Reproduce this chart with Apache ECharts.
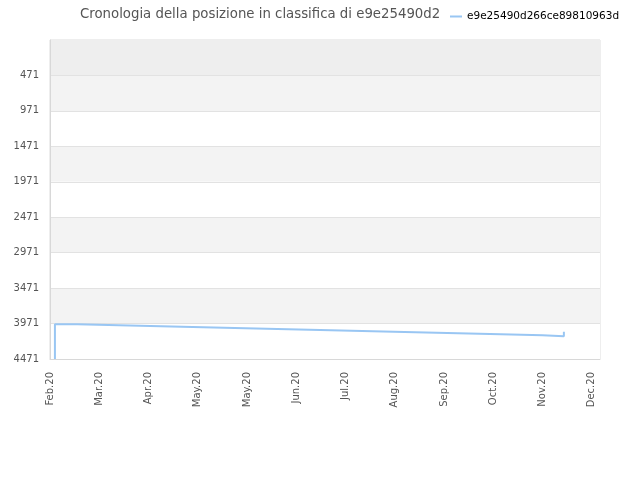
<!DOCTYPE html>
<html>
<head>
<meta charset="utf-8">
<script src="https://cdn.jsdelivr.net/npm/echarts@6/dist/echarts.min.js"></script>
<style>html,body{margin:0;padding:0;background:#fff}#c{width:640px;height:480px}</style>
</head>
<body>
<div id="c"></div>
<script>
// Days since 1 Feb 2020 at which the rank changes
var days = [3, 3, 16.5, 42, 67.5, 93.3, 119, 145, 171, 196.5, 222.4, 248.5, 274.5, 300, 313];
// Rank values
var ranks = [4471, 3981, 3995, 4009, 4023, 4037, 4051, 4065, 4079, 4093, 4107, 4121, 4135, 4149, 4086];
// Tick labels
var monthLabels = ['Feb.20','Mar.20','Apr.20','May.20','May.20','Jun.20','Jul.20','Aug.20','Sep.20','Oct.20','Nov.20','Dec.20'];
var seriesName = 'e9e25490d266ce89810963d';
var titleText = 'Cronologia della posizione in classifica di e9e25490d2';

var data = days.map(function (d, i) { return [d, ranks[i]]; });
var chart = echarts.init(document.getElementById('c'));
chart.setOption({
  animation: false,
  textStyle: { fontFamily: 'DejaVu Sans' },
  title: {
    text: titleText, left: 75, top: 3,
    textStyle: { fontSize: 13.3, fontWeight: 'normal', color: '#555', fontFamily: 'DejaVu Sans' }
  },
  legend: {
    data: [seriesName], left: 445, top: 6, itemWidth: 12, itemHeight: 2, itemGap: 8,
    icon: 'rect',
    textStyle: { fontSize: 10.5, color: '#000', fontFamily: 'DejaVu Sans' }
  },
  grid: { left: 50, right: 40, top: 40, bottom: 121, show: true, borderColor: '#ddd', borderWidth: 1, containLabel: false },
  xAxis: {
    type: 'value', min: 0, max: 335, interval: 30,
    axisLine: { show: true, onZero: false, lineStyle: { color: '#d8d8d8' } },
    axisTick: { show: false },
    splitLine: { show: false },
    axisLabel: {
      rotate: 90, fontSize: 10, color: '#555', margin: 13, showMaxLabel: false,
      formatter: function (v) { var i = Math.round(v / 30); return monthLabels[i] || ''; }
    }
  },
  yAxis: {
    type: 'value', inverse: true, min: -29, max: 4471, interval: 500,
    axisLine: { show: true, onZero: false, lineStyle: { color: '#d8d8d8' } },
    axisTick: { show: false },
    splitLine: { show: true, showMinLine: false, showMaxLine: false, lineStyle: { color: '#e2e2e2' } },
    splitArea: { show: true, areaStyle: { color: ['#eeeeee','#f3f3f3','#ffffff','#f3f3f3','#ffffff','#f3f3f3','#ffffff','#f3f3f3','#ffffff'] } },
    axisLabel: {
      fontSize: 10, color: '#555', margin: 11,
      formatter: function (v) { return v < 0 ? '' : String(v); }
    }
  },
  series: [{
    name: seriesName, type: 'line', step: 'end', data: data,
    showSymbol: false, symbol: 'none',
    lineStyle: { color: '#99c6f3', width: 2 },
    itemStyle: { color: '#99c6f3' }
  }]
});
</script>
</body>
</html>
